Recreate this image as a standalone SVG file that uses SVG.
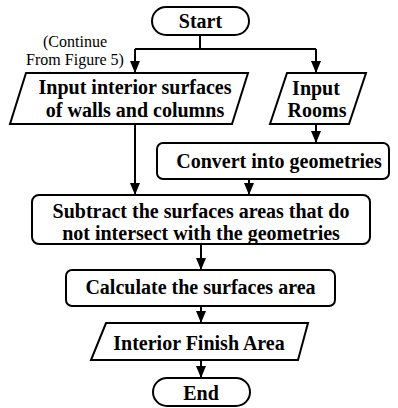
<svg xmlns="http://www.w3.org/2000/svg" width="398" height="408" viewBox="0 0 398 408">
<style>
.box{fill:#fff;stroke:#000;stroke-width:2}
.t{font-weight:bold;font-size:20px;text-anchor:middle;fill:#000}
.n{font-size:16px;text-anchor:middle;fill:#000}
.c{fill:none;stroke:#000;stroke-width:2}
</style>
<defs>
<marker id="ah" viewBox="0 0 12 10" refX="12" refY="5" markerWidth="12" markerHeight="10" markerUnits="userSpaceOnUse" orient="auto">
<path d="M0,0 L12,5 L0,10 z" fill="#000"/>
</marker>
</defs>
<rect width="398" height="408" fill="#fff"/>
<g id="connectors">
<path class="c" d="M200,35 V49"/>
<path class="c" d="M135,49 H316"/>
<path class="c" d="M135,49 V73" marker-end="url(#ah)"/>
<path class="c" d="M316,49 V73" marker-end="url(#ah)"/>
<path class="c" d="M135,124 V195" marker-end="url(#ah)"/>
<path class="c" d="M316,124 V143" marker-end="url(#ah)"/>
<path class="c" d="M249,179 V195" marker-end="url(#ah)"/>
<path class="c" d="M201,244 V270" marker-end="url(#ah)"/>
<path class="c" d="M201,306 V323" marker-end="url(#ah)"/>
<path class="c" d="M201,360 V378" marker-end="url(#ah)"/>
</g>
<g font-family="'Liberation Serif', 'Times New Roman', Times, serif">
<g id="start">
<rect class="box" x="152" y="7" width="97" height="28" rx="14"/>
<text class="t" x="200.5" y="28">Start</text>
</g>
<g id="note">
<text class="n" x="75" y="47">(Continue</text>
<text class="n" x="75" y="65">From Figure 5)</text>
</g>
<g id="input-surfaces">
<polygon class="box" points="26,73 248,73 232,124 10,124"/>
<text class="t" x="135" y="94">Input interior surfaces</text>
<text class="t" x="135" y="117">of walls and columns</text>
</g>
<g id="input-rooms">
<polygon class="box" points="287,73 366,73 349,124 270,124"/>
<text class="t" x="316" y="95">Input</text>
<text class="t" x="317" y="117">Rooms</text>
</g>
<g id="convert">
<rect class="box" x="157" y="143" width="232" height="36" rx="6"/>
<text class="t" x="279" y="168">Convert into geometries</text>
</g>
<g id="subtract">
<rect class="box" x="32" y="195" width="338" height="49" rx="7"/>
<text class="t" x="201" y="217.5">Subtract the surfaces areas that do</text>
<text class="t" x="201" y="240">not intersect with the geometries</text>
</g>
<g id="calculate">
<rect class="box" x="66" y="270" width="269" height="36" rx="6"/>
<text class="t" x="200.5" y="294">Calculate the surfaces area</text>
</g>
<g id="output">
<polygon class="box" points="106,323 308,323 298,360 91,360"/>
<text class="t" x="199" y="350">Interior Finish Area</text>
</g>
<g id="end">
<rect class="box" x="153" y="378" width="97" height="28" rx="14"/>
<text class="t" x="201" y="400">End</text>
</g>
</g>
</svg>
